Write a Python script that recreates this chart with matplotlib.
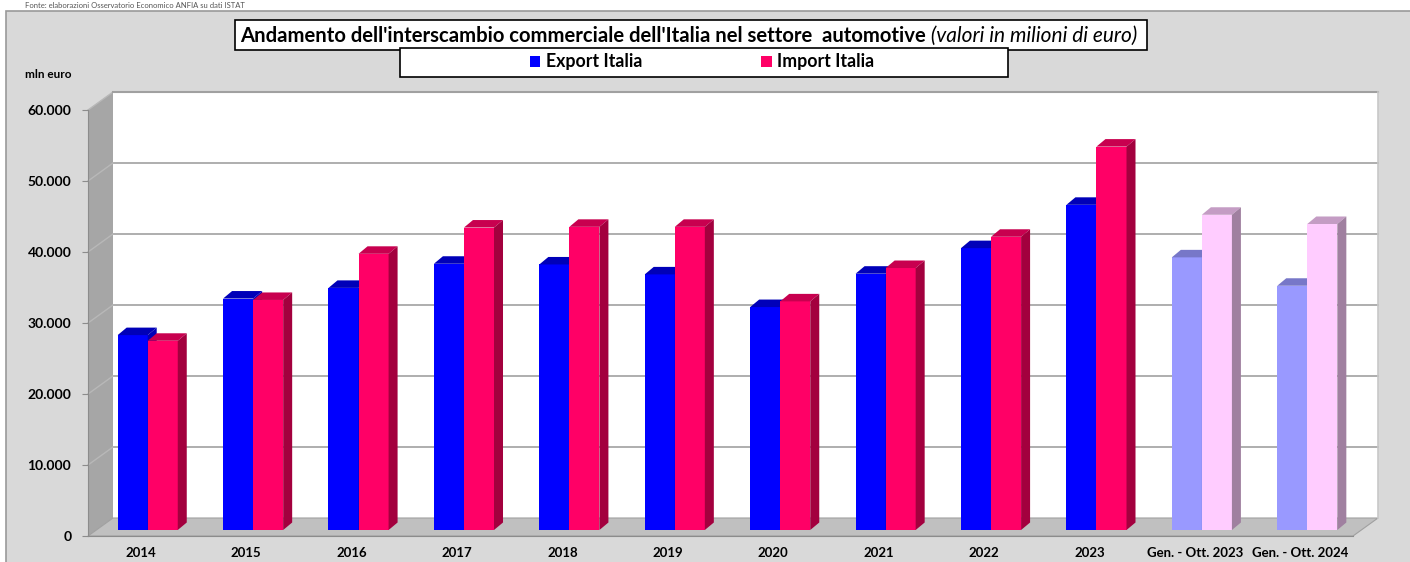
import matplotlib
matplotlib.use("Agg")
import matplotlib.pyplot as plt
import numpy as np
from matplotlib.patches import Rectangle, Polygon
from matplotlib.text import Annotation
from matplotlib.transforms import ScaledTranslation, IdentityTransform
from matplotlib.ticker import FuncFormatter

# Dati (milioni di euro)
categories = ['2014', '2015', '2016', '2017', '2018', '2019', '2020', '2021',
              '2022', '2023', 'Gen. - Ott. 2023', 'Gen. - Ott. 2024']
export_italia = [27450, 32600, 34100, 37500, 37400, 36000, 31400, 36100,
                 39700, 45800, 38400, 34400]
import_italia = [26650, 32400, 38900, 42600, 42700, 42700, 32200, 36900,
                 41300, 54000, 44400, 43100]
y_ticks = [0, 10000, 20000, 30000, 40000, 50000, 60000]
n_full_years = 10  # le ultime due colonne sono periodi parziali (colori chiari)

plt.rcParams['font.family'] = ['Lato', 'DejaVu Sans']

W, H = 1410, 562
fig = plt.figure(figsize=(W / 100, H / 100), dpi=100)
fig.patch.set_facecolor('white')


def fx(x):
    return x / W


def fy(y):
    return 1 - y / H


# area grafico grigia
fig.add_artist(Rectangle((fx(6), fy(580)), fx(1430) - fx(6), fy(11) - fy(580),
                         transform=fig.transFigure, fc='#d9d9d9', ec='#9a9a9a',
                         lw=1.2, zorder=-5))

ax = fig.add_axes([fx(88), fy(536), fx(1353) - fx(88), fy(110) - fy(536)])
ax.set_zorder(1)
ax.patch.set_visible(False)
n = len(categories)
ax.set_xlim(-0.5, n - 0.5)
ax.set_ylim(0, 60000)

# profondita' 3D (pixel)
depth = np.array([25.0, 18.0])
back_off = ScaledTranslation(depth[0] / 100, depth[1] / 100, fig.dpi_scale_trans)

# parete di fondo + griglia
ax.add_artist(Rectangle((0, 0), 1, 1, transform=ax.transAxes + back_off,
                        fc='white', ec='none', zorder=0.1, clip_on=False))
ax.plot([0, 1], [1, 1], transform=ax.transAxes + back_off, color='#a0a0a0',
        lw=1.5, zorder=0.3, clip_on=False)
ax.plot([1, 1], [0, 1], transform=ax.transAxes + back_off, color='#c8c8c8',
        lw=1.2, zorder=0.3, clip_on=False)
for v in y_ticks[1:-1]:
    ax.plot(ax.get_xlim(), [v, v], transform=ax.transData + back_off,
            color='#a8a8a8', lw=1.3, zorder=0.2, clip_on=False)

# parete sinistra e pavimento
bl = ax.transAxes.transform((0, 0))
tl = ax.transAxes.transform((0, 1))
br = ax.transAxes.transform((1, 0))
ax.add_artist(Polygon([bl, tl, tl + depth, bl + depth], closed=True,
                      transform=IdentityTransform(), fc='#a6a6a6', ec='none',
                      zorder=0.1, clip_on=False))
ax.add_artist(Polygon([bl, br, br + depth, bl + depth], closed=True,
                      transform=IdentityTransform(), fc='#c0c0c0', ec='#a0a0a0',
                      lw=0.8, zorder=0.15, clip_on=False))
for v in y_ticks[1:]:
    p = ax.transData.transform((ax.get_xlim()[0], v))
    ax.add_artist(plt.Line2D([p[0], p[0] + depth[0]], [p[1], p[1] + depth[1]],
                             transform=IdentityTransform(), color='#b8b8b8',
                             lw=1.0, zorder=0.2, clip_on=False))

# colori
ex_front = ['#0000ff'] * n_full_years + ['#9999ff'] * (n - n_full_years)
ex_top = ['#0000b8'] * n_full_years + ['#7777c8'] * (n - n_full_years)
im_front = ['#ff0066'] * n_full_years + ['#ffccff'] * (n - n_full_years)
im_top = ['#c8004f'] * n_full_years + ['#c49cc4'] * (n - n_full_years)
im_side = ['#a3003e'] * n_full_years + ['#a080a0'] * (n - n_full_years)

bar_off = ScaledTranslation(7 / 100, 6 / 100, fig.dpi_scale_trans)
bar_tr = ax.transData + bar_off
w = 0.285
x = np.arange(n)
bar_depth = np.array([9.0, 7.5])

ex_bars = ax.bar(x - w / 2, export_italia, w, color=ex_front, transform=bar_tr,
                 zorder=2, clip_on=False, label='Export Italia')
im_bars = ax.bar(x + w / 2, import_italia, w, color=im_front, transform=bar_tr,
                 zorder=3, clip_on=False, label='Import Italia')


def faces(rect, top_c, side_c, z):
    x0 = rect.get_x()
    x1 = x0 + rect.get_width()
    h = rect.get_height()
    p_tl = bar_tr.transform((x0, h))
    p_tr = bar_tr.transform((x1, h))
    p_br = bar_tr.transform((x1, 0))
    ax.add_artist(Polygon([p_tl, p_tr, p_tr + bar_depth, p_tl + bar_depth],
                          transform=IdentityTransform(), fc=top_c, ec='none',
                          zorder=z, clip_on=False))
    ax.add_artist(Polygon([p_br, p_tr, p_tr + bar_depth, p_br + bar_depth],
                          transform=IdentityTransform(), fc=side_c, ec='none',
                          zorder=z, clip_on=False))


for i in range(n):
    faces(ex_bars[i], ex_top[i], ex_top[i], 2)
    faces(im_bars[i], im_top[i], im_side[i], 3)

# assi
for s in ['top', 'right']:
    ax.spines[s].set_visible(False)
for s in ['left', 'bottom']:
    ax.spines[s].set_color('#8c8c8c')
    ax.spines[s].set_zorder(0.4)
ax.set_yticks(y_ticks)
ax.yaxis.set_major_formatter(FuncFormatter(lambda v, p: f"{v:,.0f}".replace(',', '.')))
ax.tick_params(axis='y', length=4, color='#8c8c8c', pad=8, labelsize=10)
ax.set_xticks(x, categories)
ax.tick_params(axis='x', length=0, pad=8, labelsize=9.5)
for lab in ax.get_xticklabels() + ax.get_yticklabels():
    lab.set_fontweight('bold')

fig.text(fx(25), fy(75), 'mln euro', fontsize=8.5, fontweight='bold', va='center')
fig.text(fx(25), fy(5), 'Fonte: elaborazioni Osservatorio Economico ANFIA su dati ISTAT',
         fontsize=5.5, color='#555555', va='center')

# titolo
fig.add_artist(Rectangle((fx(235), fy(50)), fx(1147) - fx(235), fy(20) - fy(50),
                         transform=fig.transFigure, fc='white', ec='black', lw=1.2, zorder=4))
t1 = fig.text(fx(240), fy(35.5),
              "Andamento dell'interscambio commerciale dell'Italia nel settore  automotive",
              fontsize=14.6, fontweight='bold', va='center', ha='left', zorder=6)
fig.add_artist(Annotation(' (valori in milioni di euro)', xy=(1, 0.5), xycoords=t1,
                          va='center', ha='left', fontsize=15, style='italic',
                          annotation_clip=False, zorder=6))

# legenda
fig.add_artist(Rectangle((fx(400), fy(77)), fx(1008) - fx(400), fy(48) - fy(77),
                         transform=fig.transFigure, fc='white', ec='black', lw=1.2, zorder=5))
leg = fig.legend([ex_bars, im_bars], ['Export Italia', 'Import Italia'],
                 loc='center', bbox_to_anchor=(fx(702), fy(62)), ncol=2,
                 frameon=False, prop={'weight': 'bold', 'size': 12.8},
                 handlelength=0.6, handleheight=0.6, handletextpad=0.3,
                 columnspacing=6.7)
leg.set_zorder(7)

fig.savefig('out.png', dpi=100)
